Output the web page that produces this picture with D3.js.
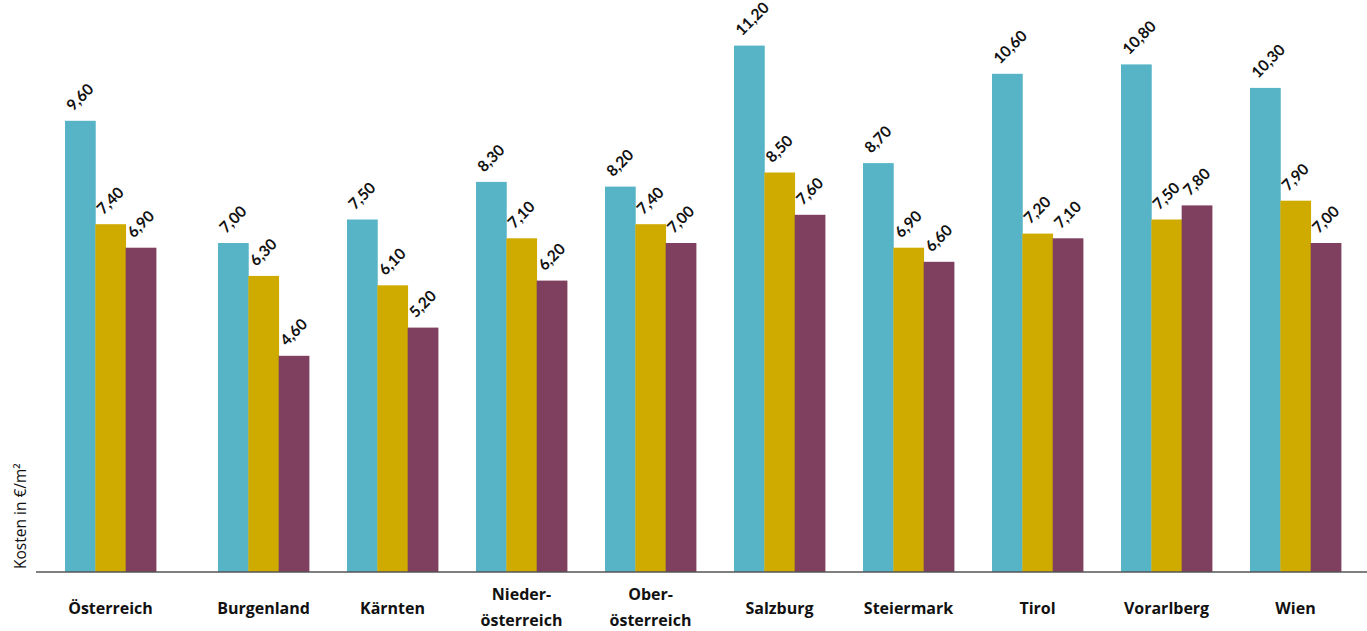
<!DOCTYPE html>
<html>
<head>
<meta charset="utf-8">
<script src="https://cdn.jsdelivr.net/npm/d3@7"></script>
<style>
  html, body { margin: 0; padding: 0; background: #fff; }
  svg { display: block; font-family: "Open Sans", Lato, sans-serif; }
</style>
</head>
<body>
<svg id="chart" width="1367" height="631"></svg>
<script>
// Categories (Bundesländer) – the national average comes first and is set apart
const categories = ["Österreich", "Burgenland", "Kärnten", "Niederösterreich", "Oberösterreich",
                    "Salzburg", "Steiermark", "Tirol", "Vorarlberg", "Wien"];
const categoryLabels = [["Österreich"], ["Burgenland"], ["Kärnten"], ["Nieder-", "österreich"],
                        ["Ober-", "österreich"], ["Salzburg"], ["Steiermark"], ["Tirol"], ["Vorarlberg"], ["Wien"]];
const seriesKeys = ["s1", "s2", "s3"];
const series1 = [9.6, 7.0, 7.5, 8.3, 8.2, 11.2, 8.7, 10.6, 10.8, 10.3];
const series2 = [7.4, 6.3, 6.1, 7.1, 7.4, 8.5, 6.9, 7.2, 7.5, 7.9];
const series3 = [6.9, 4.6, 5.2, 6.2, 7.0, 7.6, 6.6, 7.1, 7.8, 7.0];
const seriesValues = [series1, series2, series3];
const colors = ["#56b4c6", "#cfab00", "#7f3f5e"];
const yTitle = "Kosten in €/m²";

const svg = d3.select("#chart");
const baseY = 572;
const nationalGap = 24; // extra space separating the national average

const x0 = d3.scaleBand()
  .domain(categories)
  .range([89, 1341])
  .paddingInner(38 / 129)
  .paddingOuter(0);
const groupX = (c, i) => x0(c) - (i === 0 ? nationalGap : 0);

const x1 = d3.scaleBand()
  .domain(seriesKeys)
  .range([0, x0.bandwidth()]);

const y = d3.scaleLinear()
  .domain([0, 12])
  .range([baseY, baseY - 12 * 47]);

const fmt = v => d3.format(".2f")(v).replace(".", ",");

const rows = categories.map((c, i) => ({
  cat: c, i,
  vals: seriesKeys.map((k, j) => ({ key: k, j, v: seriesValues[j][i] }))
}));

const groups = svg.append("g").selectAll("g")
  .data(rows)
  .join("g")
  .attr("transform", d => `translate(${groupX(d.cat, d.i)},0)`);

groups.selectAll("rect")
  .data(d => d.vals)
  .join("rect")
  .attr("x", d => x1(d.key))
  .attr("y", d => y(d.v))
  .attr("width", x1.bandwidth() + 0.4)
  .attr("height", d => y(0) - y(d.v))
  .attr("fill", d => colors[d.j]);

// Value labels, rotated above each bar
groups.selectAll("text.val")
  .data(d => d.vals)
  .join("text")
  .attr("class", "val")
  .attr("transform", d => `translate(${x1(d.key) + 8},${y(d.v) - 9}) rotate(-45)`)
  .attr("font-family", "Lato, sans-serif")
  .attr("font-size", 15.5)
  .attr("font-weight", 700)
  .attr("fill", "#111")
  .text(d => fmt(d.v));

// Baseline
svg.append("line")
  .attr("x1", 36).attr("x2", 1367)
  .attr("y1", baseY).attr("y2", baseY)
  .attr("stroke", "#555").attr("stroke-width", 1.5);

// Category labels
const catG = svg.append("g").selectAll("text")
  .data(rows)
  .join("text")
  .attr("text-anchor", "middle")
  .attr("font-size", 16)
  .attr("font-weight", 700)
  .attr("fill", "#111")
  .attr("transform", d => `translate(${groupX(d.cat, d.i) + x0.bandwidth() / 2},0)`);
catG.each(function(d) {
  const lines = categoryLabels[d.i];
  const t = d3.select(this);
  const startY = lines.length === 1 ? 614 : 600;
  lines.forEach((ln, k) => {
    t.append("tspan").attr("x", 0).attr("y", startY + k * 26).text(ln);
  });
});

// Y axis title
svg.append("text")
  .attr("transform", `translate(26,569) rotate(-90)`)
  .attr("font-size", 15.5)
  .attr("fill", "#111")
  .text(yTitle);
</script>
</body>
</html>
